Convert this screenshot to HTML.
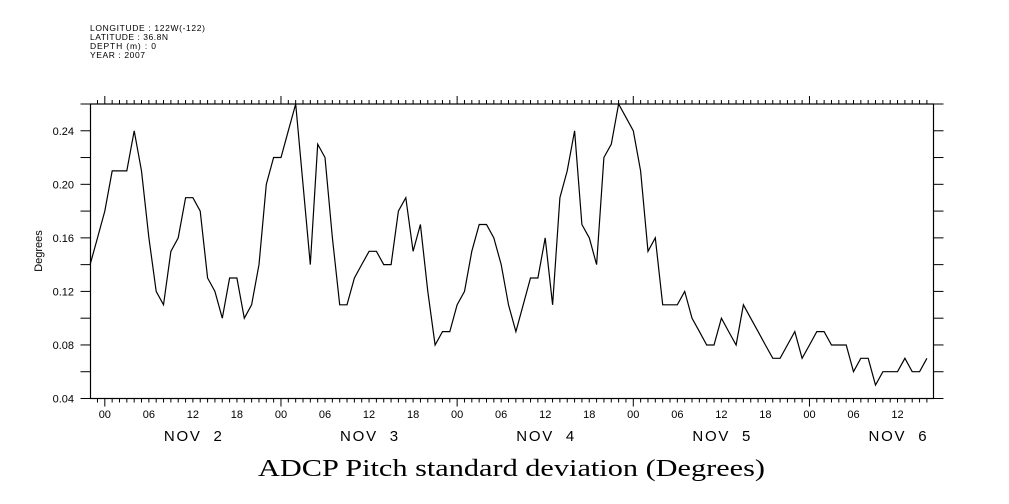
<!DOCTYPE html>
<html><head><meta charset="utf-8"><style>
html,body{margin:0;padding:0;background:#fff;}
svg{display:block;font-family:"Liberation Sans",sans-serif;}
text{white-space:pre;}
</style></head><body>
<svg id="chart" width="1009" height="504" viewBox="0 0 1009 504" xmlns="http://www.w3.org/2000/svg">
<g font-size="8.5" fill="#000">
<text x="90" y="31" textLength="115">LONGITUDE : 122W(-122)</text>
<text x="90" y="40" textLength="78">LATITUDE : 36.8N</text>
<text x="90" y="49" textLength="66">DEPTH (m) : 0</text>
<text x="90" y="58" textLength="55">YEAR : 2007</text>
</g>
<g id="axes"></g>
<path id="line" fill="none" stroke="#000" stroke-width="1.2"/>
<text x="42" y="251" transform="rotate(-90 42 251)" text-anchor="middle" font-size="11">Degrees</text>
<text x="258" y="476" textLength="507" lengthAdjust="spacingAndGlyphs" font-family="Liberation Serif, serif" font-size="24">ADCP Pitch standard deviation (Degrees)</text>
</svg>
<script>
// hourly values starting Nov 1 22:00
const startHour = -2;
const values = [0.14,0.16,0.18,0.21,0.21,0.21,0.24,0.21,0.16,0.12,0.11,0.15,0.16,0.19,0.19,0.18,0.13,0.12,0.10,0.13,0.13,0.10,0.11,0.14,0.20,0.22,0.22,0.24,0.26,0.20,0.14,0.23,0.22,0.16,0.11,0.11,0.13,0.14,
0.15,0.15,0.14,0.14,0.18,0.19,0.15,0.17,0.12,0.08,0.09,0.09,0.11,0.12,0.15,0.17,0.17,0.16,0.14,0.11,0.09,0.11,0.13,0.13,0.16,0.11,0.19,0.21,0.24,0.17,0.16,0.14,0.22,0.23,0.26,0.25,0.24,0.21,0.15,0.16,
0.11,0.11,0.11,0.12,0.10,0.09,0.08,0.08,0.10,0.09,0.08,0.11,0.10,0.09,0.08,0.07,0.07,0.08,0.09,0.07,0.08,0.09,0.09,0.08,0.08,0.08,0.06,0.07,0.07,0.05,0.06,0.06,0.06,0.07,0.06,0.06,0.07];
const yTickLabels = ["0.04","0.08","0.12","0.16","0.20","0.24"];
const hourLabels = ["00","06","12","18"];
const dayLabels = ["NOV  2","NOV  3","NOV  4","NOV  5","NOV  6"];

const L=90.5,R=933.5,T=104,B=398.5;
const hMin=-1.95,hMax=112.9,vMin=0.04,vMax=0.26;
const x=h=>L+(h-hMin)/(hMax-hMin)*(R-L);
const y=v=>B-(v-vMin)/(vMax-vMin)*(B-T);
const NS="http://www.w3.org/2000/svg";
const ax=document.getElementById('axes');
function mk(tag,attrs,parent){const e=document.createElementNS(NS,tag);for(const k in attrs)e.setAttribute(k,attrs[k]);(parent||ax).appendChild(e);return e;}
const fr=mk('rect',{x:L,y:T,width:R-L,height:B-T,fill:'none',stroke:'#000','stroke-width':1.2});


for(let h=Math.ceil(hMin);h<=hMax;h++){
  const xx=x(h);const major=h%24===0;
  const tb=mk('line',{x1:xx,x2:xx,y1:B,y2:B+(major?8:4),stroke:'#000'});
  
  
  const tt=mk('line',{x1:xx,x2:xx,y1:T,y2:T-(major?8:4),stroke:'#000'});
  
  
  if(h>=0 && h%6===0){
    const t=mk('text',{x:xx,y:418,'text-anchor':'middle','font-size':11});
    t.textContent=hourLabels[(h/6)%4];
    
    
  }
  if(h>=0 && h%24===12 && dayLabels[(h-12)/24]!==undefined){
    const t=mk('text',{x:xx-29,y:441,'font-size':15,textLength:58,lengthAdjust:'spacing'});
    t.textContent=dayLabels[(h-12)/24];
    
    
  }
}
for(let i=0;i<=11;i++){
  const v=vMin+i*0.02;const yy=y(v);
  const tl=mk('line',{x1:L-10,x2:L,y1:yy,y2:yy,stroke:'#000'});
  
  
  const tr=mk('line',{x1:R,x2:R+10,y1:yy,y2:yy,stroke:'#000'});
  
  
}
yTickLabels.forEach(s=>{
  const t=mk('text',{x:74,y:y(parseFloat(s))+4,'text-anchor':'end','font-size':11});
  t.textContent=s;
  
  
});
document.getElementById('line').setAttribute('d',values.map((v,i)=>(i?'L':'M')+x(startHour+i).toFixed(1)+','+y(v).toFixed(1)).join(''));
</script>
</body></html>
